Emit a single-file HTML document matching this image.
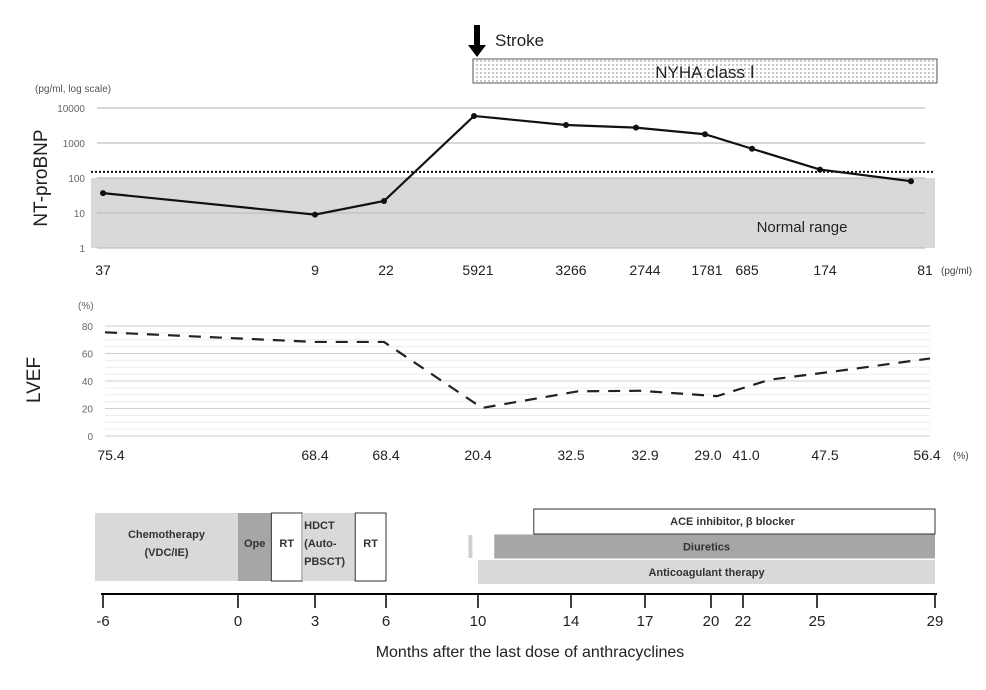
<!DOCTYPE html>
<html><head><meta charset="utf-8"><style>
html,body{margin:0;padding:0;background:#fff;}
svg{display:block;font-family:"Liberation Sans",sans-serif;}
</style></head><body>
<svg id="c" width="986" height="690" viewBox="0 0 986 690">
<defs>
<pattern id="dots" width="4" height="4" patternUnits="userSpaceOnUse"><rect width="4" height="4" fill="#fff"/><circle cx="1" cy="1" r="0.7" fill="#777"/></pattern>
</defs>
<g id="top"></g>
<g id="mid"></g>
<g id="bot"></g>
</svg>
<script>
const NS="http://www.w3.org/2000/svg";
// data
const bnpMonths=[-6,3,6,10,14,17,20,22,25,29];
const bnpValues=[37,9,22,5921,3266,2744,1781,685,174,81];
const bnpLabels=["37","9","22","5921","3266","2744","1781","685","174","81"];
const bnpTicks=[1,10,100,1000,10000];
const bnpNormalUpper=150;
const lvefMonths=[-6,3,6,10,14,17,20,22,25,29];
const lvefValues=[75.4,68.4,68.4,20.4,32.5,32.9,29.0,41.0,47.5,56.4];
const lvefLabels=["75.4","68.4","68.4","20.4","32.5","32.9","29.0","41.0","47.5","56.4"];
const lvefTicks=[0,20,40,60,80];
const timeTicks=[-6,0,3,6,10,14,17,20,22,25,29];
const strokeMonth=10;
const nyhaRange=[10,29];
const treatNames=["Chemotherapy\n(VDC/IE)","Ope","RT","HDCT\n(Auto-\nPBSCT)","RT"];
const treatStart=[-6,0,1.3,2.5,4.7];
const treatEnd=[0,1.3,2.5,4.7,6];
const drugNames=["ACE inhibitor, β blocker","Diuretics","Anticoagulant therapy"];
const drugStart=[12.4,10.7,10];
const drugEnd=[29,29,29];

// axis anchors
const axM=[-6,0,3,6,10,14,17,20,22,25,29];
const axP=[103,238,315,386,478,571,645,711,743,817,935];
const chM=[-6,3,6,10,14,17,20,22,25,29];
const bnpP=[103,315,384,474,566,636,705,752,820,911];
const lvP=[105,315,384,482,578,640,717,770,840,930];
function piece(m,ms,px){for(let i=0;i<ms.length-1;i++){if(m<=ms[i+1]||i==ms.length-2){const t=(m-ms[i])/(ms[i+1]-ms[i]);return px[i]+t*(px[i+1]-px[i]);}}}
function xT(m){return piece(m,axM,axP);}
function xB(m){return piece(m,chM,bnpP);}
function xL(m){return piece(m,chM,lvP);}
function yB(v){return 248-35*Math.log10(v);}
function yL(v){return 436-110*v/80;}

function el(p,t,a,txt){const e=document.createElementNS(NS,t);for(const k in a)e.setAttribute(k,a[k]);if(txt!==undefined)e.textContent=txt;p.appendChild(e);return e;}
const gTop=document.getElementById('top'),gMid=document.getElementById('mid'),gBot=document.getElementById('bot');

let a=el(gTop,'path',{d:`M${xT(strokeMonth)+2},25 v20 h6 l-9,12 l-9,-12 h6 v-20 z`,fill:'#000'});


let t=el(gTop,'text',{x:xT(strokeMonth)+17,y:46,'font-size':17,fill:'#222'},'Stroke');


let r=el(gTop,'rect',{x:xT(nyhaRange[0])-5,y:59,width:937-(xT(nyhaRange[0])-5),height:24,fill:'url(#dots)',stroke:'#555','stroke-width':1});


t=el(gTop,'text',{x:705,y:78,'font-size':17,'text-anchor':'middle',fill:'#222'},'NYHA class Ⅰ');



t=el(gTop,'text',{x:35,y:92,'font-size':10,fill:'#555'},'(pg/ml, log scale)');


r=el(gTop,'rect',{x:91,y:yB(100),width:935-91,height:yB(1)-yB(100),fill:'#d9d9d9'});


bnpTicks.forEach(v=>{let g=el(gTop,'line',{x1:97,x2:925,y1:yB(v),y2:yB(v),stroke:'#bfbfbf','stroke-width':1.2});


let l=el(gTop,'text',{x:85,y:yB(v)+4,'font-size':10,'text-anchor':'end',fill:'#666'},String(v));

});
let d=el(gTop,'line',{x1:91,x2:935,y1:yB(bnpNormalUpper),y2:yB(bnpNormalUpper),stroke:'#111','stroke-width':2,'stroke-dasharray':'2,2'});


t=el(gTop,'text',{x:802,y:232,'font-size':15,'text-anchor':'middle',fill:'#222'},'Normal range');


t=el(gTop,'text',{x:0,y:0,'font-size':19,'text-anchor':'middle',fill:'#222',transform:'translate(47,178) rotate(-90)'},'NT-proBNP');


let p=el(gTop,'polyline',{points:bnpMonths.map((m,i)=>xB(m)+','+yB(bnpValues[i])).join(' '),fill:'none',stroke:'#111','stroke-width':2.2});


const bLabOff=[0,0,0,0,0,0,-4,4,8,-10];
bnpMonths.forEach((m,i)=>{let c=el(gTop,'circle',{cx:xB(m),cy:yB(bnpValues[i]),r:3,fill:'#111'});


let l=el(gTop,'text',{x:xT(m)+bLabOff[i],y:275,'font-size':14,'text-anchor':'middle',fill:'#222'},bnpLabels[i]);

});
t=el(gTop,'text',{x:941,y:274,'font-size':10,fill:'#444'},'(pg/ml)');



t=el(gMid,'text',{x:78,y:309,'font-size':10,fill:'#666'},'(%)');


for(let v=0;v<=80;v+=5){let g=el(gMid,'line',{x1:105,x2:930,y1:yL(v),y2:yL(v),stroke:v%20==0?'#cfcfcf':'#ececec','stroke-width':1});

}
lvefTicks.forEach(v=>{let l=el(gMid,'text',{x:93,y:yL(v)+4,'font-size':10,'text-anchor':'end',fill:'#666'},String(v));

});
t=el(gMid,'text',{x:0,y:0,'font-size':19,'text-anchor':'middle',fill:'#222',transform:'translate(40,380) rotate(-90)'},'LVEF');


p=el(gMid,'polyline',{points:lvefMonths.map((m,i)=>xL(m)+','+yL(lvefValues[i])).join(' '),fill:'none',stroke:'#222','stroke-width':2.2,'stroke-dasharray':'12,9'});


const lLabOff=[8,0,0,0,0,0,-3,3,8,-8];
lvefMonths.forEach((m,i)=>{let l=el(gMid,'text',{x:xT(m)+lLabOff[i],y:460,'font-size':14,'text-anchor':'middle',fill:'#222'},lvefLabels[i]);

});
t=el(gMid,'text',{x:953,y:459,'font-size':10,fill:'#444'},'(%)');



const tFill=['#d9d9d9','#a6a6a6','#fff','#d9d9d9','#fff'];
treatNames.forEach((n,i)=>{const x0=i==0?95:xT(treatStart[i]),x1=xT(treatEnd[i]);
let b=el(gBot,'rect',{x:x0,y:513,width:x1-x0,height:68,fill:tFill[i],stroke:tFill[i]=='#fff'?'#333':'none','stroke-width':1});


const lines=n.split('\n');const cx=i==3?x0+2:(x0+x1)/2;
const tx=el(gBot,'text',{x:cx,y:547-(lines.length-1)*9,'font-size':11,'font-weight':'bold','text-anchor':i==3?'start':'middle',fill:'#333'});


lines.forEach((s,k)=>{el(tx,'tspan',{x:cx,dy:k?18:0},s);});});
let s=el(gBot,'rect',{x:xT(9.8)-5,y:535,width:4,height:23,fill:'#d0d0d0'});


const dFill=['#fff','#a6a6a6','#d9d9d9'];
drugNames.forEach((n,i)=>{const x0=xT(drugStart[i]),x1=xT(drugEnd[i]);const y0=509+i*25.5;
let b=el(gBot,'rect',{x:x0,y:y0,width:x1-x0,height:i==0?25:24,fill:dFill[i],stroke:i==0?'#333':'none','stroke-width':1});


let l=el(gBot,'text',{x:(xT(10)+x1)/2+(i==0?26:0),y:y0+16,'font-size':11,'font-weight':'bold','text-anchor':'middle',fill:'#333'},n);

});
let ax=el(gBot,'line',{x1:101,x2:937,y1:594,y2:594,stroke:'#000','stroke-width':2});


timeTicks.forEach(m=>{let k=el(gBot,'line',{x1:xT(m),x2:xT(m),y1:594,y2:608,stroke:'#000','stroke-width':1.5});


let l=el(gBot,'text',{x:xT(m),y:626,'font-size':15,'text-anchor':'middle',fill:'#222'},String(m));

});
t=el(gBot,'text',{x:530,y:657,'font-size':16,'text-anchor':'middle',fill:'#222'},'Months after the last dose of anthracyclines');


</script>
</body></html>
